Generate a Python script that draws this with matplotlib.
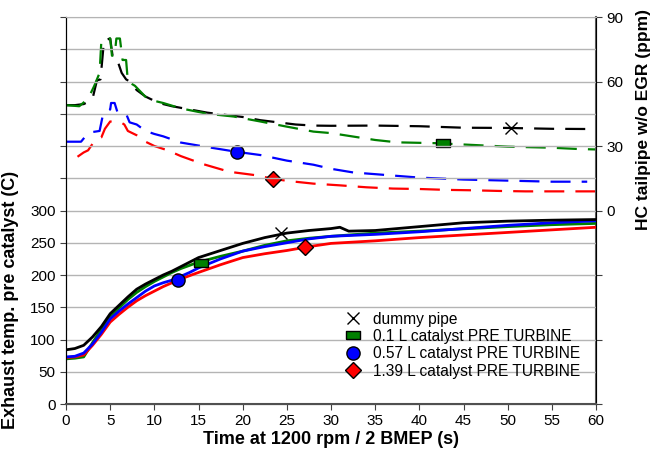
import matplotlib
matplotlib.use("Agg")
import matplotlib.pyplot as plt
from matplotlib.lines import Line2D
import numpy as np

plt.rcParams['font.family'] = ['Liberation Sans', 'DejaVu Sans']

# exhaust temperature pre catalyst (C), left axis
t_dummy_T = [0, 1, 2, 3, 4, 5, 6, 7, 8, 9, 10, 11, 12, 13, 14, 15, 17.5, 20, 22.5, 25, 27.5, 30, 31, 32, 35, 40, 45, 50, 55, 60]
T_dummy = [84, 86, 91, 104, 120, 140, 153, 166, 178, 186, 193, 200, 206, 213, 220, 227, 238, 249, 258, 265, 269, 272, 274, 268, 269, 275, 281, 283.5, 285, 286]

t_cat = [0, 1, 2, 3, 4, 5, 6, 7, 8, 9, 10, 11, 12, 13, 14, 15, 17.5, 20, 22.5, 25, 27.5, 30, 35, 40, 45, 50, 55, 60]
T_01 = [70, 71, 73, 95, 116, 135, 149, 162, 173, 182, 190, 197, 204, 210, 215, 220, 229, 237, 246, 253, 257, 260, 265, 268, 271.6, 275, 278, 280]
T_057 = [73, 74, 79, 93, 111, 132, 144, 155, 165, 175, 183, 188, 192, 198, 204, 211, 225, 237, 244, 250, 256, 260, 263, 267, 272, 277, 281, 284]
T_139 = [72, 73, 76, 91, 108, 127, 139, 150, 160, 168, 175, 182, 188, 194, 199, 204, 216, 227, 233, 238, 244, 249, 253, 258, 262, 266, 270, 274]

# HC tailpipe w/o EGR (ppm), right axis
t_hc_dummy = [0, 1, 2, 2.5, 3, 3.5, 3.9, 4.3, 5.0, 5.3, 5.8, 6.3, 6.8, 7.2, 8, 9, 10, 11, 12, 14, 16, 18, 20, 22, 24, 26, 28, 30, 35, 40, 45, 50, 55, 59.3]
hc_dummy = [49, 49, 49.5, 50.5, 52, 60.5, 61, 79, 80, 71, 70, 64, 61, 60, 56, 53, 51, 49.5, 48.5, 47, 45.5, 44.5, 43.5, 42, 41, 40, 39.5, 39.4, 39.5, 39.2, 38.5, 38.4, 38, 37.9]

t_hc_01 = [0, 1.5, 2.5, 3.2, 3.8, 4.0, 4.6, 5.0, 5.2, 5.5, 5.7, 6.1, 6.4, 6.8, 7.0, 7.8, 8.5, 9.2, 10, 11, 13, 16, 19, 22, 25, 28, 30, 32.5, 35, 37.5, 42, 45, 50, 55, 58, 60]
hc_01 = [49, 48.5, 52, 58, 64, 79, 80, 80, 72, 72, 80, 80, 70, 70, 60, 58, 55, 52, 51, 50, 47.5, 45, 43.7, 41.4, 39, 36.7, 36, 34.4, 32.8, 31.7, 31.3, 30.7, 29.7, 29.2, 28.6, 28.4]

t_hc_057 = [0, 1.7, 2.3, 3, 3.8, 4.2, 5, 5.1, 5.5, 5.8, 6.3, 6.8, 7.2, 8, 9, 10, 11, 13, 16, 19.3, 22, 25, 28, 30, 32.5, 35, 37.5, 40, 45, 50, 55, 59]
hc_057 = [32, 32, 35, 36.5, 37, 45, 47, 50, 50, 46, 45.5, 45, 41, 40, 37, 35.6, 34.5, 31.6, 29.5, 27.3, 25.8, 23.2, 21.3, 19.4, 17.7, 16.9, 16.1, 15.3, 14.4, 13.9, 13.4, 13.4]

t_hc_139 = [1.3, 2, 2.5, 3.0, 3.5, 4, 4.4, 5, 6.2, 6.6, 7, 8, 9, 10, 11.5, 13, 15.5, 18.5, 21.5, 23.4, 25, 28, 31, 34, 37, 40, 43, 46, 49, 52, 60]
hc_139 = [25, 27, 28, 31, 33, 34, 38, 41.4, 41, 40, 37, 35, 32, 30, 28, 25.3, 21.6, 18, 16.4, 14.8, 13.8, 12.5, 11.7, 10.8, 10.2, 10, 9.6, 9.4, 9.1, 8.9, 8.9]

# marker points (time, value) on each curve
mk_T = {'dummy': (24.3, 265), '01': (15.3, 218), '057': (12.7, 193), '139': (27.0, 244)}
mk_hc = {'dummy': (50.4, 38.4), '01': (42.7, 31.6), '057': (19.3, 27.3), '139': (23.4, 14.8)}

labels = ['dummy pipe', '0.1 L catalyst PRE TURBINE', '0.57 L catalyst PRE TURBINE', '1.39 L catalyst PRE TURBINE']
colors = ['black', '#008000', '#0000ff', '#ff0000']

rect = [(-1, -0.55), (1, -0.55), (1, 0.55), (-1, 0.55), (-1, -0.55)]
markers = ['x', rect, 'o', 'D']
msizes = [8, 10, 9.5, 8]
keys = ['dummy', '01', '057', '139']

fig = plt.figure(figsize=(6.55, 4.51), dpi=100)
ax = fig.add_axes([0.1008, 0.1042, 0.8092, 0.8581])
ax2 = ax.twinx()
ax.set_zorder(ax2.get_zorder() + 1)
ax.patch.set_visible(False)

# HC dashed curves
dash = (9, 5)
ax2.plot(t_hc_dummy, hc_dummy, color=colors[0], lw=1.6, dashes=dash)
ax2.plot(t_hc_01, hc_01, color=colors[1], lw=1.6, dashes=dash)
ax2.plot(t_hc_057, hc_057, color=colors[2], lw=1.6, dashes=dash)
ax2.plot(t_hc_139, hc_139, color=colors[3], lw=1.6, dashes=dash)

# temperature solid curves
ax.plot(t_cat, T_01, color=colors[1], lw=2)
ax.plot(t_cat, T_139, color=colors[3], lw=2)
ax.plot(t_cat, T_057, color=colors[2], lw=2)
ax.plot(t_dummy_T, T_dummy, color=colors[0], lw=2)

for k, c, m, s in zip(keys, colors, markers, msizes):
    if k == 'dummy':
        ax.plot(*mk_T[k], marker=m, ms=s, color='black', mew=1, ls='none')
        ax2.plot(*mk_hc[k], marker=m, ms=s, color='black', mew=1, ls='none')
    else:
        ax.plot(*mk_T[k], marker=m, ms=s, mfc=c, mec='black', mew=1, ls='none', zorder=5)
        ax2.plot(*mk_hc[k], marker=m, ms=s, mfc=c, mec='black', mew=1, ls='none', zorder=5)

ax.set_xlim(0, 60)
ax.set_ylim(0, 600)
ax2.set_ylim(-90, 90)
ax.set_xticks(np.arange(0, 61, 5))
yt = np.arange(0, 601, 50)
ax.set_yticks(yt)
ax.set_yticklabels([str(v) if v <= 300 else '' for v in yt])
rt = np.arange(-90, 91, 30)
ax2.set_yticks(rt)
ax2.set_yticklabels([str(v) if v >= 0 else '' for v in rt])

ax.grid(axis='y', color='#b4b4b4', lw=1)
ax.tick_params(axis='both', labelsize=11, direction='out', length=4, color='#404040')
ax2.tick_params(axis='y', labelsize=11, direction='out', length=4, color='#404040')

ax2.spines['top'].set_visible(False)
ax.spines['top'].set_color('#b4b4b4')
ax.spines['left'].set_color('black')
ax.spines['bottom'].set_color('#505050')
ax2.spines['right'].set_color('#606060')
ax2.spines['right'].set_linewidth(1.5)
ax.spines['bottom'].set_linewidth(1.5)

ax.set_xlabel('Time at 1200 rpm / 2 BMEP (s)', fontsize=13, fontweight='bold', labelpad=2)
ax.set_ylabel('Exhaust temp. pre catalyst (C)', fontsize=13, fontweight='bold')
ax.yaxis.set_label_coords(-0.088, 0.27)
ax2.set_ylabel('HC tailpipe w/o EGR (ppm)', fontsize=12.5, fontweight='bold')
ax2.yaxis.set_label_coords(1.076, 0.735)

handles = []
for k, c, m, s in zip(keys, colors, markers, msizes):
    if k == 'dummy':
        handles.append(Line2D([], [], marker=m, ms=s, color='black', mew=1, ls='none'))
    else:
        handles.append(Line2D([], [], marker=m, ms=s, mfc=c, mec='black', mew=1, ls='none'))
ax.legend(handles, labels, loc='upper left', bbox_to_anchor=(0.5, 0.255), frameon=False,
          fontsize=11.2, handletextpad=0.3, labelspacing=0.15, borderaxespad=0)

fig.savefig('out.png', dpi=100)
